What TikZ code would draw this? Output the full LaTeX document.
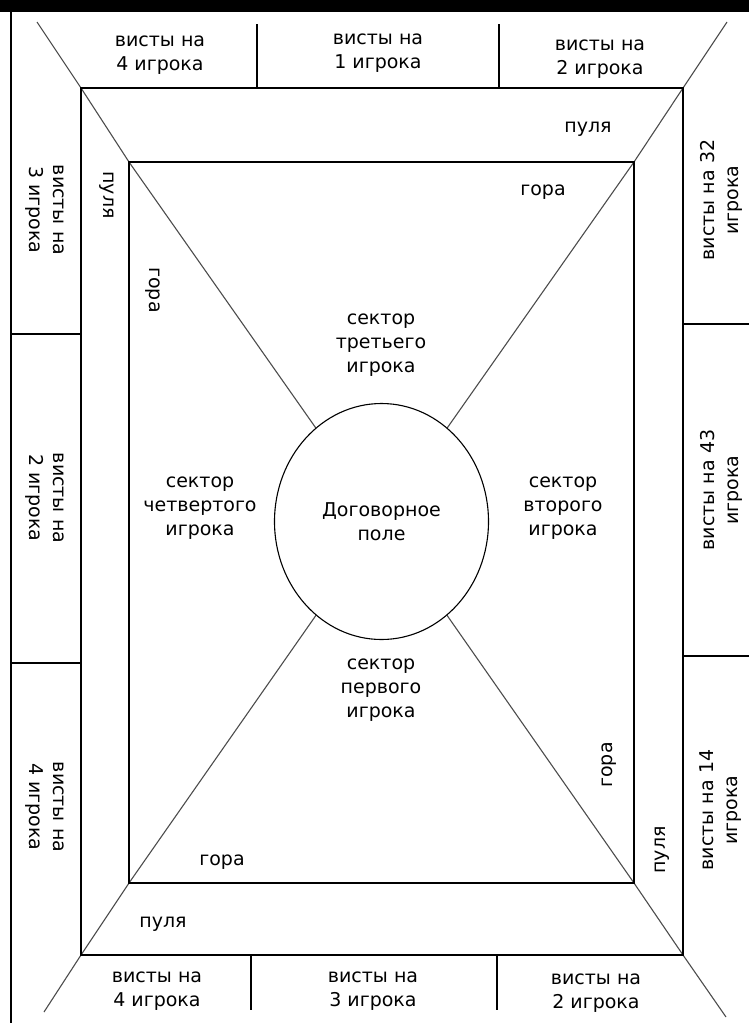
\documentclass[tikz,border=0pt]{standalone}
\usepackage{fontspec}
\setmainfont{DejaVu Sans}
\usetikzlibrary{shapes.geometric}
\begin{document}
\begin{tikzpicture}[x=1pt,y=-1pt,
  frame/.style={line width=1.5pt,black},
  diag/.style={line width=1.1pt,black!70},
  lbl/.style={font=\fontsize{19}{24}\selectfont,align=center,inner sep=0pt},
]
\useasboundingbox (0,0) rectangle (749,1023);
% window frame
\fill[black] (0,0) rectangle (749,12);
\draw[frame] (11,12) -- (11,1023);
% key points
\coordinate (OTL) at (81,88);
\coordinate (OTR) at (683,88);
\coordinate (OBL) at (81,955);
\coordinate (OBR) at (683,955);
\coordinate (ITL) at (129,162);
\coordinate (ITR) at (634,162);
\coordinate (IBL) at (129,883);
\coordinate (IBR) at (634,883);
\coordinate (C) at (381.5,521.5);
\coordinate (ETL) at (37,22);
\coordinate (ETR) at (727,22);
\coordinate (EBL) at (44,1012);
\coordinate (EBR) at (726,1017);
% diagonals
\draw[diag] (ETL) -- (OTL) -- (ITL) -- (C);
\draw[diag] (ETR) -- (OTR) -- (ITR) -- (C);
\draw[diag] (EBL) -- (OBL) -- (IBL) -- (C);
\draw[diag] (EBR) -- (OBR) -- (IBR) -- (C);
% rectangles
\draw[frame] (OTL) rectangle (OBR);
\draw[frame] (ITL) rectangle (IBR);
% strip dividers
\draw[frame] (257,24) -- (257,88);
\draw[frame] (499,24) -- (499,88);
\draw[frame] (251,955) -- (251,1010);
\draw[frame] (497,955) -- (497,1010);
\draw[frame] (11,334) -- (81,334);
\draw[frame] (11,663) -- (81,663);
\draw[frame] (683,324) -- (749,324);
\draw[frame] (683,656) -- (749,656);
% central field
\node[ellipse,draw,fill=white,line width=1.1pt,minimum width=214pt,minimum height=236pt,inner sep=0pt,lbl] (field) at (C) {Договорное\\поле};
% top strip
\node[lbl] (t1) at (160,55) {висты на\\4 игрока};
\node[lbl] (t2) at (378,53) {висты на\\1 игрока};
\node[lbl] (t3) at (600,59) {висты на\\2 игрока};
% bottom strip
\node[lbl] (b1) at (157,991) {висты на\\4 игрока};
\node[lbl] (b2) at (373,991) {висты на\\3 игрока};
\node[lbl] (b3) at (596,993) {висты на\\2 игрока};
% left strip
\node[lbl,rotate=-90] (l1) at (45,210) {висты на\\3 игрока};
\node[lbl,rotate=-90] (l2) at (45,498) {висты на\\2 игрока};
\node[lbl,rotate=-90] (l3) at (45,807) {висты на\\4 игрока};
% right strip
\node[lbl,rotate=90] (r1) at (721,200) {висты на 32\\игрока};
\node[lbl,rotate=90] (r2) at (721,490) {висты на 43\\игрока};
\node[lbl,rotate=90] (r3) at (721,810) {висты на 14\\игрока};
% pulya
\node[lbl] (p1) at (588,129) {пуля};
\node[lbl,rotate=-90] (p2) at (107,195) {пуля};
\node[lbl] (p3) at (163,924) {пуля};
\node[lbl,rotate=90] (p4) at (662,850) {пуля};
% gora
\node[lbl] (g1) at (543,192) {гора};
\node[lbl,rotate=-90] (g2) at (153,290) {гора};
\node[lbl] (g3) at (222,862) {гора};
\node[lbl,rotate=90] (g4) at (609,765) {гора};
% sectors
\node[lbl] (s3) at (381,345) {сектор\\третьего\\игрока};
\node[lbl] (s4) at (200,508) {сектор\\четвертого\\игрока};
\node[lbl] (s2) at (563,508) {сектор\\второго\\игрока};
\node[lbl] (s1) at (381,690) {сектор\\первого\\игрока};
\end{tikzpicture}
\end{document}
